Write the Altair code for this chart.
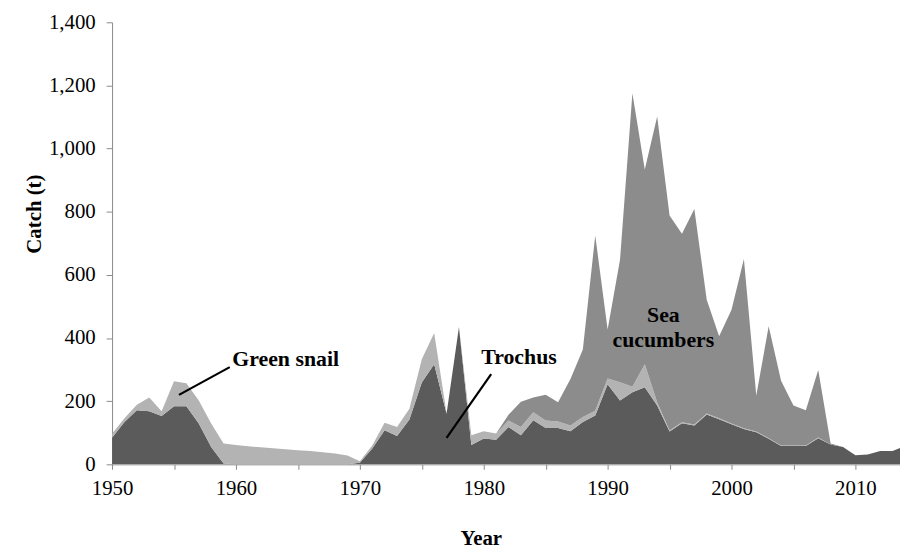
import altair as alt
import pandas as pd

years = list(range(1950, 2015))

trochus = [84, 134, 171, 168, 153, 184, 184, 129, 55, 3,
           0, 0, 0, 0, 0, 0, 0, 0, 0, 0,
           5, 50, 108, 90, 142, 259, 317, 160, 435, 61,
           82, 78, 118, 92, 140, 115, 115, 105, 134, 155,
           254, 202, 228, 244, 186, 104, 130, 123, 158, 143,
           127, 112, 102, 81, 58, 58, 58, 83, 63, 55,
           29, 31, 42, 42, 58]

green_snail = [13, 12, 18, 44, 15, 79, 73, 73, 74, 63,
               61, 57, 54, 51, 48, 45, 42, 38, 34, 28,
               5, 10, 24, 28, 34, 74, 99, 2, 0, 31,
               23, 20, 21, 26, 25, 24, 21, 18, 16, 15,
               18, 58, 18, 73, 11, 3, 3, 3, 3, 3,
               2, 2, 2, 2, 2, 2, 2, 2, 0, 0,
               0, 0, 0, 0, 0]

sea_cucumbers = [0] * 32 + [18, 80, 47, 81, 61, 147, 214, 555,
                            155, 388, 929, 617, 905, 681, 597, 683, 360, 260,
                            361, 536, 114, 354, 205, 126, 111, 214, 3, 0,
                            0, 0, 0, 0, 0]

series_names = ["Trochus", "Green snail", "Sea cucumbers"]
series_colors = ["#5b5b5b", "#b3b3b3", "#8c8c8c"]

# annotation labels (data coordinates)
label_text = ["Green snail", "Trochus"]
label_x = [1959.7, 1979.8]
label_y = [333, 339]

sc_text = ["Sea", "cucumbers"]
sc_x = [1994.5, 1994.5]
sc_y = [474, 395]

leader_x = [1955.4, 1977.0]
leader_y = [220, 84]
leader_x2 = [1959.5, 1980.6]
leader_y2 = [308, 286]

FONT = "Liberation Serif, Times New Roman, serif"

rows = []
for i, yr in enumerate(years):
    for k, (name, vals) in enumerate(zip(series_names, [trochus, green_snail, sea_cucumbers])):
        rows.append({"Year": yr, "Series": name, "Catch": vals[i], "ord": k})
df = pd.DataFrame(rows)

x_scale = alt.Scale(domain=[1950, 2013.6], nice=False, zero=False)
y_scale = alt.Scale(domain=[0, 1400], nice=False)

area = alt.Chart(df).mark_area(clip=True, interpolate="linear").encode(
    x=alt.X("Year:Q", scale=x_scale,
            axis=alt.Axis(values=list(range(1950, 2015, 5)), format="d",
                          labelExpr="datum.value % 10 == 0 ? datum.label : ''",
                          labelFlush=False, labelOverlap=False,
                          title="Year", tickSize=5, labelPadding=8,
                          titleX=372, titleY=75, titleBaseline="middle", titleAlign="center")),
    y=alt.Y("Catch:Q", stack="zero", scale=y_scale,
            axis=alt.Axis(values=list(range(0, 1401, 200)), format=",d",
                          title="Catch (t)", tickSize=6, labelPadding=11,
                          titleX=-78, titleY=193, titleAngle=270,
                          titleBaseline="middle", titleAlign="center")),
    color=alt.Color("Series:N", scale=alt.Scale(domain=series_names, range=series_colors), legend=None),
    order=alt.Order("ord:Q", sort="ascending"),
)

lab_df = pd.DataFrame({"Year": label_x, "Catch": label_y, "t": label_text})
labels = alt.Chart(lab_df).mark_text(
    font=FONT, fontSize=22, fontWeight="bold", align="left", baseline="middle", color="black"
).encode(x=alt.X("Year:Q", scale=x_scale), y=alt.Y("Catch:Q", scale=y_scale), text="t:N")

sc_df = pd.DataFrame({"Year": sc_x, "Catch": sc_y, "t": sc_text})
sc_labels = alt.Chart(sc_df).mark_text(
    font=FONT, fontSize=22, fontWeight="bold", align="center", baseline="middle", color="black"
).encode(x=alt.X("Year:Q", scale=x_scale), y=alt.Y("Catch:Q", scale=y_scale), text="t:N")

lead_df = pd.DataFrame({"Year": leader_x, "Catch": leader_y, "Year2": leader_x2, "Catch2": leader_y2})
leaders = alt.Chart(lead_df).mark_rule(color="black", strokeWidth=2.2).encode(
    x=alt.X("Year:Q", scale=x_scale), y=alt.Y("Catch:Q", scale=y_scale),
    x2="Year2:Q", y2="Catch2:Q")

chart = alt.layer(area, leaders, labels, sc_labels).properties(
    width=795, height=446,
    padding={"left": 105, "top": 12, "right": 0, "bottom": 84},
    autosize=alt.AutoSizeParams(type="none"),
    background="white",
).configure_view(stroke=None).configure_axis(
    grid=False,
    domainColor="#8a8a8a", tickColor="#8a8a8a",
    labelFont=FONT, labelFontSize=21, labelColor="black",
    titleFont=FONT, titleFontSize=21, titleFontWeight="bold", titleColor="black",
)

chart.save("out.html", embed_options={"renderer": "svg", "actions": False})
